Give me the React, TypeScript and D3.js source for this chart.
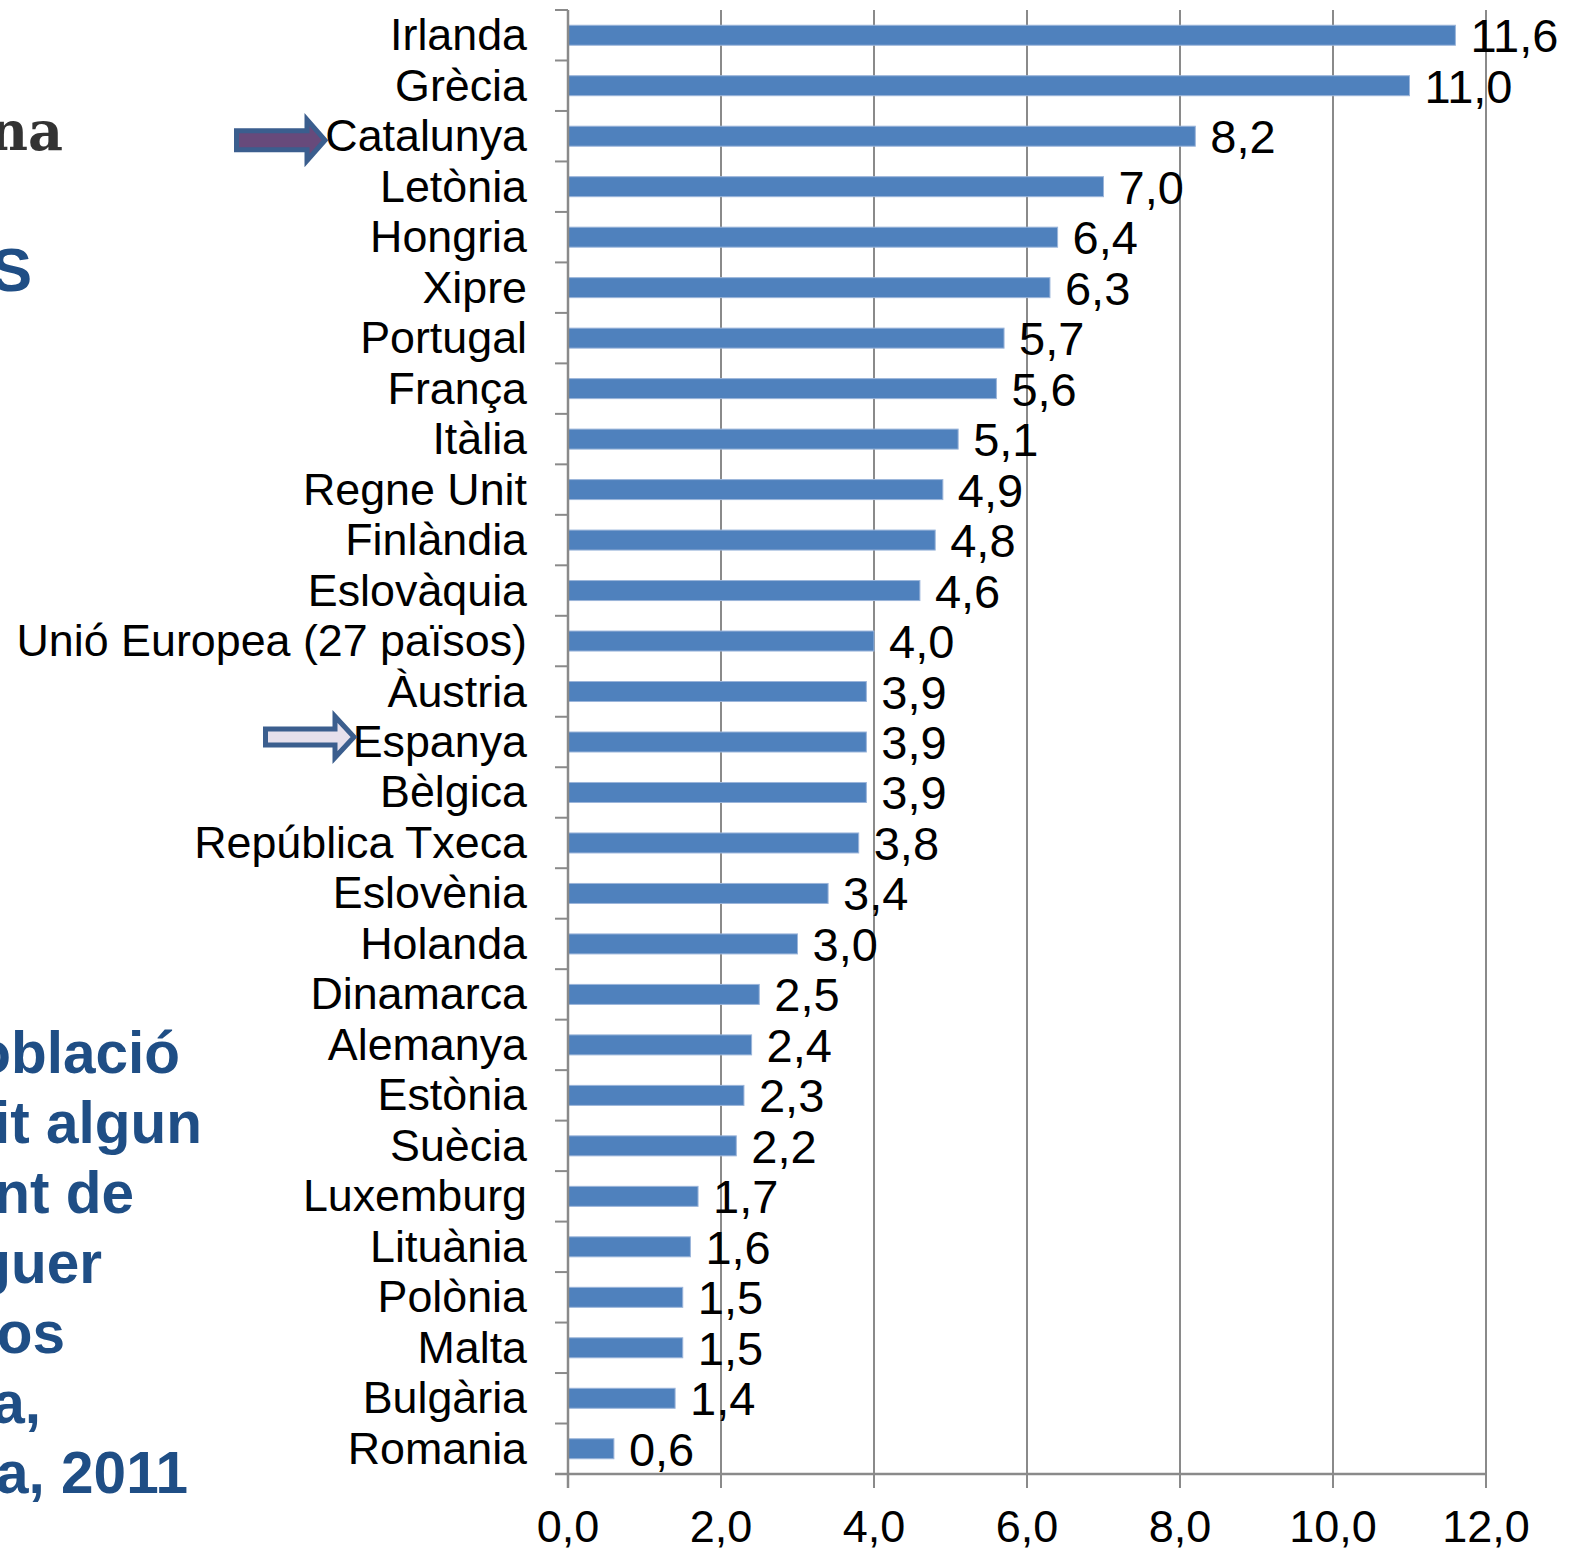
import React from "react";
import * as d3 from "d3";

const categories = [
  "Irlanda", "Grècia", "Catalunya", "Letònia", "Hongria", "Xipre", "Portugal",
  "França", "Itàlia", "Regne Unit", "Finlàndia", "Eslovàquia",
  "Unió Europea (27 països)", "Àustria", "Espanya", "Bèlgica", "República Txeca",
  "Eslovènia", "Holanda", "Dinamarca", "Alemanya", "Estònia", "Suècia",
  "Luxemburg", "Lituània", "Polònia", "Malta", "Bulgària", "Romania",
];
const values = [
  11.6, 11.0, 8.2, 7.0, 6.4, 6.3, 5.7, 5.6, 5.1, 4.9, 4.8, 4.6, 4.0, 3.9, 3.9,
  3.9, 3.8, 3.4, 3.0, 2.5, 2.4, 2.3, 2.2, 1.7, 1.6, 1.5, 1.5, 1.4, 0.6,
];
const xTicks = [0, 2, 4, 6, 8, 10, 12];
const titleFragments = ["oblació", "it algun", "nt de", "guer", "os", "a,", "a, 2011"];
const titleRightEdges = [180, 202, 134, 102, 65, 41, 188];

const W = 1584;
const H = 1553;
const X0 = 568;
const X1 = 1486;
const Y0 = 10;
const Y1 = 1474;
const FONT = "Liberation Sans, Arial, sans-serif";
const GRID = "#8a8a8a";
const BAR = "#4F81BD";

const fmt = (v: number) => d3.format(".1f")(v).replace(".", ",");

export default function App() {
  const x = d3.scaleLinear().domain([0, 12]).range([X0, X1]);
  const y = d3.scaleBand<string>().domain(categories).range([Y0, Y1]).padding(0);
  const step = y.step();
  const barH = 20;

  const arrowPath = (
    left: number, tip: number, base: number, cy: number, shaftHalf: number, headHalf: number
  ) =>
    `M${left},${cy - shaftHalf} L${base},${cy - shaftHalf} L${base},${cy - headHalf} L${tip},${cy} L${base},${cy + headHalf} L${base},${cy + shaftHalf} L${left},${cy + shaftHalf} Z`;

  const catY = (y("Catalunya") ?? 0) + step / 2;
  const espY = (y("Espanya") ?? 0) + step / 2;

  return (
    <svg
      width={W}
      height={H}
      style={{ position: "absolute", left: 0, top: 0, background: "#fff" }}
      fontFamily={FONT}
    >
      <rect x={0} y={0} width={W} height={H} fill="#fff" />

      {/* gridlines */}
      {xTicks.map((t) => (
        <line
          key={"g" + t}
          x1={x(t)}
          x2={x(t)}
          y1={Y0}
          y2={Y1 + 14}
          stroke={GRID}
          strokeWidth={2}
        />
      ))}

      {/* category ticks */}
      {d3.range(categories.length + 1).map((i) => (
        <line
          key={"ct" + i}
          x1={X0 - 13}
          x2={X0}
          y1={Y0 + i * step}
          y2={Y0 + i * step}
          stroke={GRID}
          strokeWidth={2}
        />
      ))}

      {/* bars */}
      {categories.map((c, i) => (
        <rect
          key={"b" + c}
          x={x(0)}
          y={(y(c) ?? 0) + step / 2 - barH / 2}
          width={x(values[i]) - x(0)}
          height={barH}
          fill={BAR}
          stroke="#9bb5da"
          strokeWidth={1}
        />
      ))}

      {/* axes */}
      <line x1={X0} x2={X0} y1={Y0} y2={Y1 + 14} stroke={GRID} strokeWidth={2.5} />
      <line x1={X0 - 13} x2={X1} y1={Y1} y2={Y1} stroke={GRID} strokeWidth={2.5} />

      {/* category labels */}
      {categories.map((c) => (
        <text
          key={"l" + c}
          x={527}
          y={(y(c) ?? 0) + step / 2 + 15}
          textAnchor="end"
          fontSize={44.8}
          fill="#000"
        >
          {c}
        </text>
      ))}

      {/* value labels */}
      {categories.map((c, i) => (
        <text
          key={"v" + c}
          x={x(values[i]) + 15}
          y={(y(c) ?? 0) + step / 2 + 17}
          fontSize={47}
          fill="#000"
        >
          {fmt(values[i])}
        </text>
      ))}

      {/* x tick labels */}
      {xTicks.map((t) => (
        <text
          key={"t" + t}
          x={x(t)}
          y={1542}
          textAnchor="middle"
          fontSize={45}
          fill="#000"
        >
          {fmt(t)}
        </text>
      ))}

      {/* arrows */}
      <path
        d={arrowPath(236.5, 325, 307, catY + 4, 9.5, 20.5)}
        fill="#674a7b"
        stroke="#3b5e8e"
        strokeWidth={5}
        strokeLinejoin="miter"
      />
      <path
        d={arrowPath(265.5, 354, 335, espY - 5, 8, 20.5)}
        fill="#e6e0ec"
        stroke="#3b5e8e"
        strokeWidth={5}
        strokeLinejoin="miter"
      />

      {/* clipped left-side fragments */}
      <text x={63} y={150} textAnchor="end" fontSize={54} fontWeight="bold"
        fontFamily="DejaVu Serif, serif" fill="#333">
        na
      </text>
      <text x={32} y={291} textAnchor="end" fontSize={62} fontWeight="bold" fill="#1f4e85">
        S
      </text>
      {titleFragments.map((f, i) => (
        <text
          key={"f" + i}
          x={titleRightEdges[i]}
          y={1073 + i * 70}
          textAnchor="end"
          fontSize={58.5}
          fontWeight="bold"
          fill="#1f4e85"
        >
          {f}
        </text>
      ))}
    </svg>
  );
}
